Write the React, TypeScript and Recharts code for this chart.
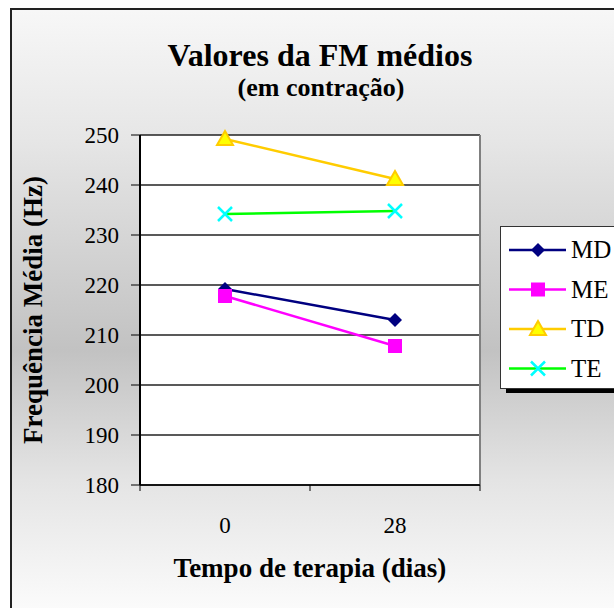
import { CartesianGrid, Line, LineChart, ReferenceLine, XAxis, YAxis } from "recharts";

const DAYS = [0, 28];
const MD = [219.2, 213.0];
const ME = [217.8, 207.8];
const TD = [249.2, 241.2];
const TE = [234.2, 234.8];
const Y_TICKS = [180, 190, 200, 210, 220, 230, 240, 250];
// -14/14/42 are the category boundaries (tick marks only), 0/28 carry labels
const X_TICKS = [-14, 0, 14, 28, 42];
const X_LABELS = [0, 28];

const FONT = '"Liberation Serif", "Times New Roman", serif';

const SERIES = [
  { key: "MD", line: "#000080", fill: "#000080", shape: "diamond" },
  { key: "ME", line: "#ff00ff", fill: "#ff00ff", shape: "square" },
  { key: "TD", line: "#ffcc00", fill: "#ffff00", shape: "triangle" },
  { key: "TE", line: "#00ff00", fill: "#00ffff", shape: "cross" },
];

const data = DAYS.map((day, i) => ({
  day,
  MD: MD[i],
  ME: ME[i],
  TD: TD[i],
  TE: TE[i],
}));

function Marker({ shape, cx, cy, line, fill }: any) {
  if (shape === "diamond") {
    return (
      <path
        d={`M${cx},${cy - 7}L${cx + 7},${cy}L${cx},${cy + 7}L${cx - 7},${cy}Z`}
        fill={fill}
      />
    );
  }
  if (shape === "square") {
    return <rect x={cx - 7} y={cy - 7} width={14} height={14} fill={fill} />;
  }
  if (shape === "triangle") {
    return (
      <path
        d={`M${cx},${cy - 8}L${cx + 8},${cy + 6}L${cx - 8},${cy + 6}Z`}
        fill={fill}
        stroke={line}
        strokeWidth={2}
      />
    );
  }
  return (
    <path
      d={`M${cx - 7},${cy - 7}L${cx + 7},${cy + 7}M${cx + 7},${cy - 7}L${cx - 7},${cy + 7}`}
      stroke={fill}
      strokeWidth={2.5}
    />
  );
}

function XTick({ x, y, payload }: any) {
  if (X_LABELS.includes(payload.value)) {
    return (
      <text x={x} y={y + 48} textAnchor="middle" fontSize={23} fontFamily={FONT} fill="#000">
        {payload.value}
      </text>
    );
  }
  return <line x1={x} y1={y} x2={x} y2={y + 6} stroke="#000" strokeWidth={1} />;
}

function LegendBox() {
  return (
    <div style={{ position: "absolute", left: 500, top: 226, width: 130, height: 161 }}>
      <div
        style={{
          position: "absolute",
          left: 6,
          top: 6,
          width: 130,
          height: 161,
          background: "#000",
        }}
      />
      <svg
        width={130}
        height={161}
        style={{
          position: "absolute",
          left: 0,
          top: 0,
          background: "#fff",
          border: "1px solid #333",
        }}
      >
        {SERIES.map((s, i) => {
          const cy = 23 + i * 39.5;
          return (
            <g key={s.key}>
              <line x1={8} y1={cy} x2={65} y2={cy} stroke={s.line} strokeWidth={2.5} />
              <Marker shape={s.shape} cx={37} cy={cy} line={s.line} fill={s.fill} />
              <text x={70} y={cy + 8} fontSize={25} fontFamily={FONT} fill="#000">
                {s.key}
              </text>
            </g>
          );
        })}
      </svg>
    </div>
  );
}

export default function App() {
  return (
    <div
      style={{
        position: "absolute",
        left: 0,
        top: 0,
        width: 614,
        height: 608,
        overflow: "hidden",
        background: "#fff",
        fontFamily: FONT,
      }}
    >
      <div
        style={{
          position: "absolute",
          left: 10,
          top: 8,
          width: 700,
          height: 700,
          borderLeft: "2px solid #222",
          borderTop: "2px solid #222",
          background:
            "linear-gradient(to bottom, #f7f7f7 0px, #e6e6e6 130px, #c2c2c2 340px, #e4e4e4 470px, #fbfbfb 600px)",
        }}
      />
      <div
        style={{
          position: "absolute",
          left: 0,
          width: 640,
          top: 37,
          textAlign: "center",
          fontWeight: "bold",
          fontSize: 32,
          lineHeight: "36px",
        }}
      >
        Valores da FM médios
      </div>
      <div
        style={{
          position: "absolute",
          left: 0,
          width: 642,
          top: 73,
          textAlign: "center",
          fontWeight: "bold",
          fontSize: 26,
          lineHeight: "30px",
        }}
      >
        (em contração)
      </div>
      <div
        style={{
          position: "absolute",
          left: 33 - 150,
          top: 310 - 16,
          width: 300,
          textAlign: "center",
          fontWeight: "bold",
          fontSize: 27,
          lineHeight: "32px",
          transform: "rotate(-90deg)",
        }}
      >
        Frequência Média (Hz)
      </div>
      <div
        style={{
          position: "absolute",
          left: 160,
          width: 300,
          top: 552,
          textAlign: "center",
          fontWeight: "bold",
          fontSize: 27,
          lineHeight: "32px",
        }}
      >
        Tempo de terapia (dias)
      </div>
      <LineChart
        width={614}
        height={608}
        data={data}
        margin={{ top: 135, right: 134, bottom: 73, left: 0 }}
        style={{ position: "absolute", left: 0, top: 0 }}
      >
        <CartesianGrid vertical={false} fill="#fff" stroke="#222" strokeWidth={1.5} />
        <XAxis
          dataKey="day"
          type="number"
          domain={[-14, 42]}
          ticks={X_TICKS}
          interval={0}
          height={50}
          tickSize={0}
          tickMargin={0}
          tickLine={false}
          tick={<XTick />}
          axisLine={{ stroke: "#000", strokeWidth: 1.5 }}
        />
        <YAxis
          type="number"
          domain={[180, 250]}
          ticks={Y_TICKS}
          interval={0}
          width={140}
          tickSize={9}
          tickMargin={12}
          tick={{ fontSize: 23, fontFamily: FONT, fill: "#000" }}
          tickLine={{ stroke: "#000" }}
          axisLine={{ stroke: "#000", strokeWidth: 2 }}
        />
        <ReferenceLine x={42} stroke="#808080" strokeWidth={2} />
        {SERIES.map((s) => (
          <Line
            key={s.key}
            dataKey={s.key}
            stroke={s.line}
            strokeWidth={2.5}
            isAnimationActive={false}
            dot={(p: any) => (
              <Marker
                key={`${s.key}-${p.index}`}
                shape={s.shape}
                cx={p.cx}
                cy={p.cy}
                line={s.line}
                fill={s.fill}
              />
            )}
            activeDot={false}
          />
        ))}
      </LineChart>
      <LegendBox />
    </div>
  );
}
